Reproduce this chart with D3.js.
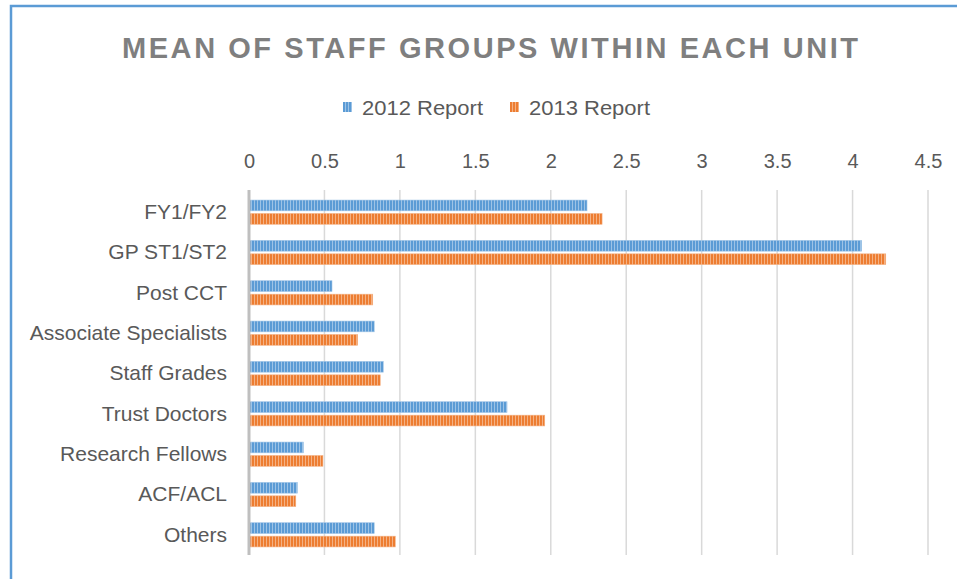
<!DOCTYPE html>
<html>
<head>
<meta charset="utf-8">
<script src="https://cdn.jsdelivr.net/npm/d3@7/dist/d3.min.js"></script>
<style>
  body { margin: 0; background: #fff; }
  svg { display: block; font-family: "Liberation Sans", Arial, sans-serif; }
</style>
</head>
<body>
<svg id="chart" width="957" height="579"></svg>
<script>
// data
var categories = ["FY1/FY2", "GP ST1/ST2", "Post CCT", "Associate Specialists",
  "Staff Grades", "Trust Doctors", "Research Fellows", "ACF/ACL", "Others"];
var report2012 = [2.24, 4.06, 0.55, 0.83, 0.89, 1.71, 0.36, 0.32, 0.83];
var report2013 = [2.34, 4.22, 0.82, 0.72, 0.87, 1.96, 0.49, 0.31, 0.97];
var seriesNames = ["2012 Report", "2013 Report"];
var xTicks = [0, 0.5, 1, 1.5, 2, 2.5, 3, 3.5, 4, 4.5];

var colors = ["#5b9bd5", "#ed7d31"];
var lights = ["#9dc3e6", "#f4b183"];

var svg = d3.select("#chart");

// chart frame (cut off on right and bottom in the picture)
svg.append("rect")
  .attr("x", 11).attr("y", 6)
  .attr("width", 1000).attr("height", 700)
  .attr("fill", "#fff")
  .attr("stroke", "#5b9bd5")
  .attr("stroke-width", 2.5);

// striped fills
var defs = svg.append("defs");
colors.forEach(function(c, i) {
  var p = defs.append("pattern")
    .attr("id", "stripe" + i)
    .attr("patternUnits", "userSpaceOnUse")
    .attr("width", 3).attr("height", 10);
  p.append("rect").attr("width", 3).attr("height", 10).attr("fill", lights[i]);
  p.append("rect").attr("width", 2).attr("height", 10).attr("fill", c);
});

var x = d3.scaleLinear().domain([0, 4.5]).range([249, 928]);
var y = d3.scaleBand().domain(categories).range([192, 555]).paddingInner(0.4).paddingOuter(0.2);
var sub = d3.scaleBand().domain([0, 1]).range([0, y.bandwidth()]).paddingInner(0.2);

// title
svg.append("text")
  .attr("x", 490).attr("y", 58)
  .attr("text-anchor", "middle")
  .attr("fill", "#7f7f7f")
  .attr("font-size", 29)
  .attr("font-weight", "bold")
  .attr("textLength", 736)
  .attr("lengthAdjust", "spacing")
  .text("MEAN OF STAFF GROUPS WITHIN EACH UNIT");

// legend
var legendX = [343, 510];
seriesNames.forEach(function(name, i) {
  var g = svg.append("g").attr("transform", "translate(" + legendX[i] + ",102)");
  g.append("rect").attr("width", 9).attr("height", 10).attr("fill", "url(#stripe" + i + ")");
  g.append("text").attr("x", 19).attr("y", 13)
    .attr("fill", "#595959").attr("font-size", 21)
    .attr("textLength", 121).attr("lengthAdjust", "spacingAndGlyphs")
    .text(name);
});

// gridlines
svg.append("g")
  .selectAll("line")
  .data(xTicks.slice(1))
  .join("line")
  .attr("x1", function(d) { return x(d); })
  .attr("x2", function(d) { return x(d); })
  .attr("y1", 190).attr("y2", 555)
  .attr("stroke", "#d9d9d9")
  .attr("stroke-width", 1.5);

// top axis labels
var xAxis = svg.append("g")
  .attr("transform", "translate(0,168)")
  .call(d3.axisTop(x).tickValues(xTicks).tickSize(0).tickPadding(0).tickFormat(d3.format("")));
xAxis.select(".domain").remove();
xAxis.selectAll("text")
  .attr("fill", "#595959")
  .attr("font-size", 20)
  .attr("font-family", "Liberation Sans, Arial, sans-serif");

// bars
var series = [report2012, report2013];
series.forEach(function(vals, s) {
  svg.append("g")
    .selectAll("rect")
    .data(vals)
    .join("rect")
    .attr("x", x(0))
    .attr("y", function(d, i) { return y(categories[i]) + sub(s); })
    .attr("width", function(d) { return x(d) - x(0); })
    .attr("height", sub.bandwidth())
    .attr("fill", "url(#stripe" + s + ")")
    .attr("stroke", lights[s])
    .attr("stroke-width", 0.6);
});

// category axis
var yAxis = svg.append("g")
  .attr("transform", "translate(249,0)")
  .call(d3.axisLeft(y).tickSize(0).tickPadding(22));
yAxis.select(".domain").remove();
yAxis.selectAll("text")
  .attr("fill", "#595959")
  .attr("font-size", 21)
  .attr("font-family", "Liberation Sans, Arial, sans-serif");

svg.append("line")
  .attr("x1", 249).attr("x2", 249)
  .attr("y1", 190).attr("y2", 555)
  .attr("stroke", "#bfbfbf")
  .attr("stroke-width", 3);
</script>
</body>
</html>
